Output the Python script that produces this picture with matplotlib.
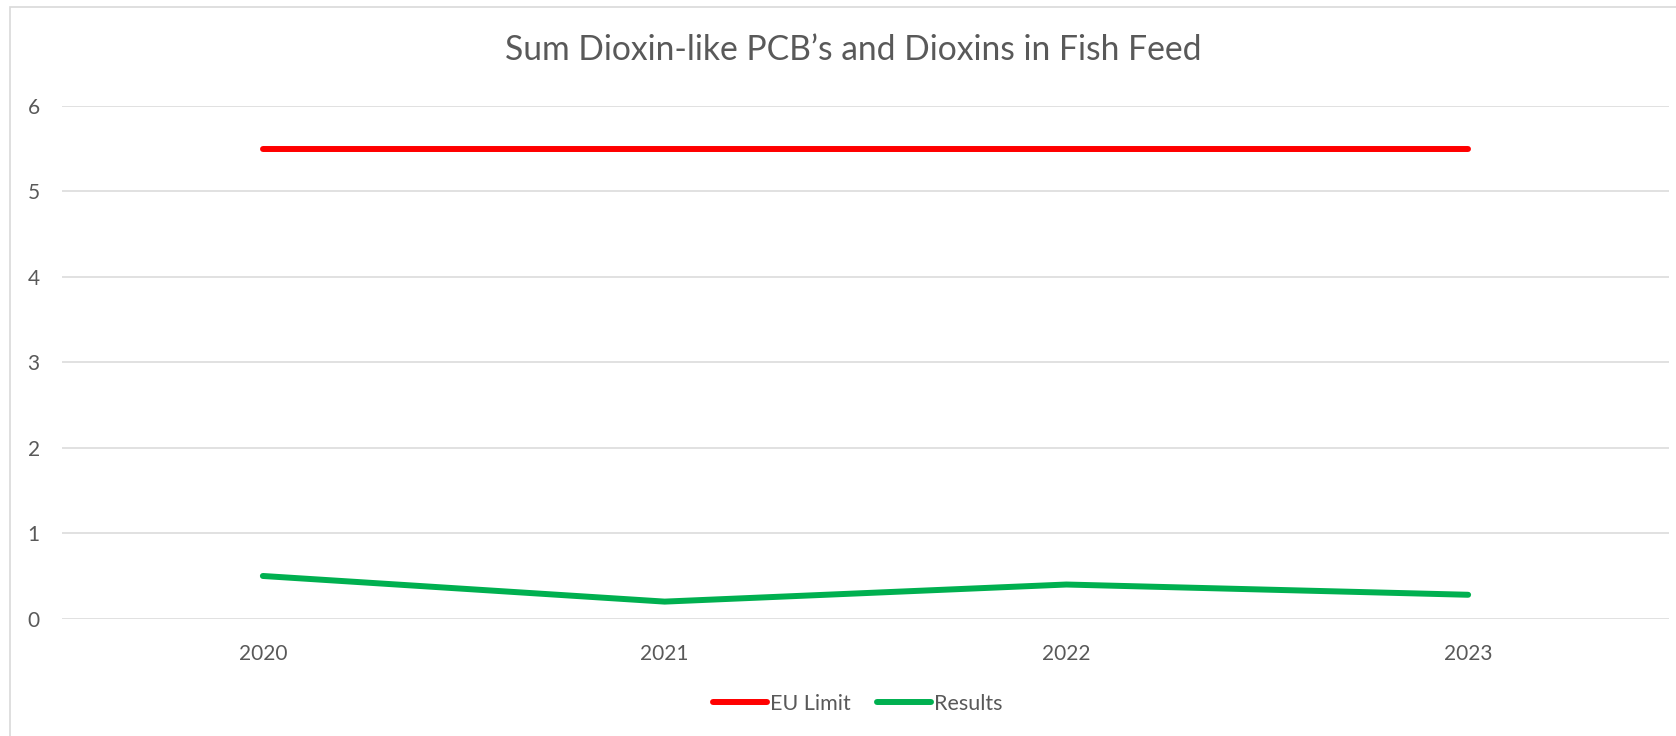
import matplotlib.pyplot as plt
from matplotlib.patches import Rectangle

# data
years = ["2020", "2021", "2022", "2023"]
eu_limit = [5.5, 5.5, 5.5, 5.5]
results = [0.5, 0.2, 0.4, 0.28]
yticks = [0, 1, 2, 3, 4, 5, 6]

plt.rcParams['font.family'] = ['Lato', 'DejaVu Sans']
txt = '#595959'
grid = '#d9d9d9'

fig = plt.figure(figsize=(16.76, 7.36), dpi=100)
ax = fig.add_axes([62 / 1676, 1 - 618.7 / 736, (1669 - 62) / 1676, (618.7 - 106) / 736])

# chart border
fig.patches.append(Rectangle((10 / 1676, -0.1), 1.1, 1 - 7 / 736 + 0.1,
                             transform=fig.transFigure, fill=False,
                             edgecolor=grid, linewidth=1.2))

x = range(len(years))
ax.plot(x, eu_limit, color='#ff0000', linewidth=4.3, solid_capstyle='round', label='EU Limit')
ax.plot(x, results, color='#00b050', linewidth=4.3, solid_capstyle='round', label='Results')

ax.set_xlim(-0.5, len(years) - 0.5)
ax.set_ylim(0, 6)
ax.set_yticks(yticks)
ax.set_xticks(list(x))
ax.set_xticklabels(years)
ax.grid(axis='y', color=grid, linewidth=1.1)
ax.set_axisbelow(True)
for s in ax.spines.values():
    s.set_visible(False)
ax.tick_params(axis='both', length=0, labelsize=15, labelcolor=txt)
ax.tick_params(axis='y', pad=16)
ax.tick_params(axis='x', pad=18)

fig.text(853 / 1676, 1 - 50 / 736, "Sum Dioxin-like PCB\u2019s and Dioxins in Fish Feed",
         ha='center', va='center', fontsize=24.2, color=txt)

fig.legend(loc='center', bbox_to_anchor=(858 / 1676, 1 - 704 / 736), ncol=2,
           frameon=False, fontsize=15.5, labelcolor=txt, handlelength=2.5,
           handletextpad=0.15, columnspacing=1.2)

fig.savefig('out.png', dpi=100)
